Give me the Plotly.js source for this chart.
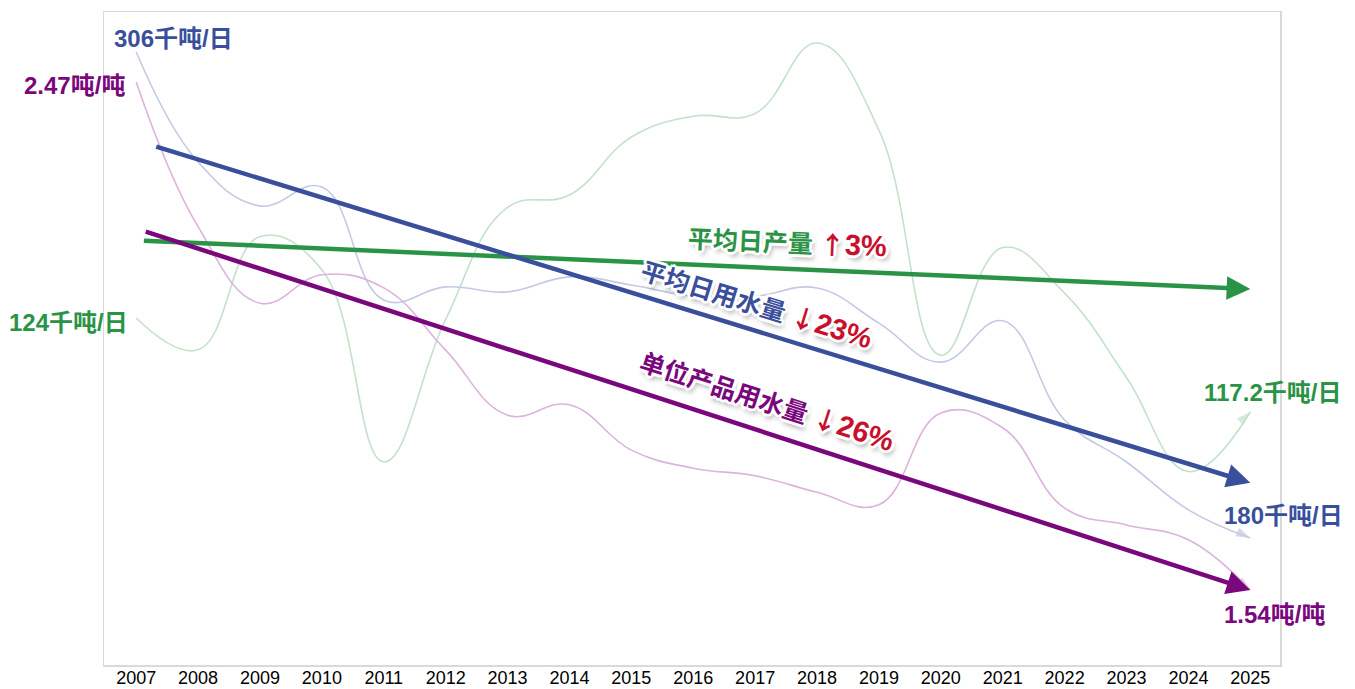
<!DOCTYPE html>
<html><head><meta charset="utf-8">
<script src="https://cdn.plot.ly/plotly-3.0.1.min.js"></script>
<style>html,body{margin:0;padding:0;background:#fff}#chart{width:1355px;height:689px}</style>
</head><body><div id="chart"></div>
<script>
// ---- data ----
const years = [2007,2008,2009,2010,2011,2012,2013,2014,2015,2016,2017,2018,2019,2020,2021,2022,2023,2024,2025];
const tickLabels = years.map(String);
// 平均日产量 (千吨/日)
const production = [124.0,121.7,129.9,127.5,113.6,123.9,132.0,132.9,137.1,138.6,138.8,143.9,137.6,121.3,129.1,125.8,119.7,112.9,117.2];
// 平均日用水量 (千吨/日)
const waterUse = [306.0,277.5,266.1,271.0,241.7,245.1,243.8,247.7,245.6,242.7,242.7,244.8,235.7,225.6,236.3,210.6,199.7,187.3,180.0];
// 单位产品用水量 (吨/吨)
const unitWater = [2.47,2.205,2.065,2.117,2.093,1.979,1.860,1.879,1.796,1.763,1.749,1.719,1.696,1.864,1.837,1.690,1.659,1.632,1.54];
// trend arrows (start, end)
const prodTrendX = [2007.1, 2025];  const prodTrend = [129.6, 126.1];
const waterTrendX = [2007.3, 2025]; const waterTrend = [281.6, 194.3];
const unitTrendX = [2007.13, 2025]; const unitTrend = [2.197, 1.54];
const trendLabels = [
  {name:'平均日产量', arrow:'↑', pct:'3%'},
  {name:'平均日用水量', arrow:'↓', pct:'23%'},
  {name:'单位产品用水量', arrow:'↓', pct:'26%'}
];
const endLabels = {
  prodStart:'124千吨/日', prodEnd:'117.2千吨/日',
  waterStart:'306千吨/日', waterEnd:'180千吨/日',
  unitStart:'2.47吨/吨', unitEnd:'1.54吨/吨'
};

// ---- styles ----
const GREEN='#2a9345', BLUE='#3a4f9c', PURPLE='#7a087c', RED='#c8102e';
const FG='#c3e2ca', FB='#c4c9e4', FP='#dcb3dc';
const FONT='"Liberation Sans", Arial, "Noto Sans CJK SC", sans-serif';

function faint(y, yaxis, color){
  const n = y.length;
  return {x: years, y: y, yaxis: yaxis, type:'scatter', mode:'lines+markers',
    line:{color:color, width:1.6, shape:'spline', smoothing:1.2},
    marker:{symbol:'arrow', angleref:'previous', color:color,
      size: y.map((v,i)=> i===n-1 ? 15 : 0), line:{width:0}},
    hoverinfo:'skip', showlegend:false, cliponaxis:false};
}
const traces = [
  faint(production,'y', FG),
  faint(waterUse,'y2', FB),
  faint(unitWater,'y3', FP)
];

function trendArrow(xs, ys, yref, color){
  return {x: xs[1], y: ys[1], xref:'x', yref: yref, ax: xs[0], ay: ys[0], axref:'x', ayref: yref,
    showarrow:true, arrowhead:2, arrowsize:1.05, arrowwidth:4.5, arrowcolor:color, standoff:0, text:''};
}
const halo = '-2px -2px 0 #fff, 2px -2px 0 #fff, -2px 2px 0 #fff, 2px 2px 0 #fff, 0 -3px 0 #fff, 0 3px 0 #fff, -3px 0 0 #fff, 3px 0 0 #fff, 3px 4px 5px rgba(0,0,0,0.4)';
function trendText(lbl, color, x, y, angle){
  return {xref:'paper', yref:'paper', x:x, y:y, xanchor:'center', yanchor:'middle', showarrow:false,
    textangle: angle,
    text: lbl.name + ' <span style="color:'+RED+';font-family:\'Noto Sans CJK SC\'">' + lbl.arrow +
          '</span><span style="color:'+RED+';font-size:29px">' + lbl.pct + '</span>',
    font:{family:FONT, size:25, color:color, weight:'bold', shadow:halo}};
}
function endText(t, color, x, y){
  return {xref:'paper', yref:'paper', x:x, y:y, xanchor:'center', yanchor:'middle', showarrow:false,
    text:t, font:{family:FONT, size:24, color:color, weight:'bold'}};
}

const annotations = [
  trendArrow(prodTrendX, prodTrend, 'y', GREEN),
  trendArrow(waterTrendX, waterTrend, 'y2', BLUE),
  trendArrow(unitTrendX, unitTrend, 'y3', PURPLE),
  trendText(trendLabels[0], GREEN, 0.581, 0.650, 2.5),
  trendText(trendLabels[1], BLUE, 0.555, 0.555, 17),
  trendText(trendLabels[2], PURPLE, 0.564, 0.406, 18),
  endText(endLabels.waterStart, BLUE, 0.0595, 0.960),
  endText(endLabels.unitStart, PURPLE, -0.0255, 0.888),
  endText(endLabels.prodStart, GREEN, -0.0298, 0.525),
  endText(endLabels.prodEnd, GREEN, 0.9932, 0.418),
  endText(endLabels.waterEnd, BLUE, 1.0026, 0.2297),
  endText(endLabels.unitEnd, PURPLE, 0.9957, 0.0766)
];

const hiddenY = {visible:false, showgrid:false, zeroline:false, fixedrange:true};
const layout = {
  width:1355, height:689,
  margin:{l:104, r:75, t:12, b:24},
  paper_bgcolor:'#fff', plot_bgcolor:'#fff',
  showlegend:false,
  xaxis:{range:[2006.48, 2025.48], tickvals:years, ticktext:tickLabels, showgrid:false, zeroline:false,
    showline:true, mirror:true, linecolor:'#d9d9d9', linewidth:1.5, ticks:'', automargin:false,
    ticklabelstandoff:-4,
    tickfont:{family:'"Liberation Sans", Arial, sans-serif', size:18, color:'#000'}},
  yaxis:{range:[98.90, 146.14], showline:true, mirror:true, linecolor:'#d9d9d9', linewidth:1.5,
    showticklabels:false, ticks:'', showgrid:false, zeroline:false, automargin:false},
  yaxis2:Object.assign({range:[147.07, 316.37], overlaying:'y'}, hiddenY),
  yaxis3:Object.assign({range:[1.4027, 2.598], overlaying:'y'}, hiddenY),
  annotations: annotations
};
Plotly.newPlot('chart', traces, layout, {displayModeBar:false, staticPlot:true});
</script></body></html>
